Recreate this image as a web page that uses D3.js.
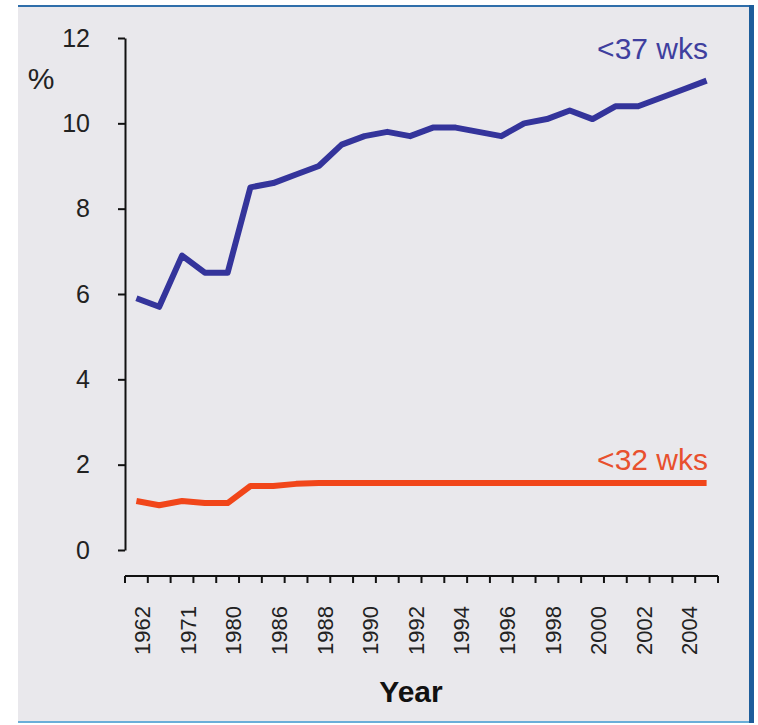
<!DOCTYPE html>
<html>
<head>
<meta charset="utf-8">
<script src="https://cdn.jsdelivr.net/npm/d3@7"></script>
<style>
  body { margin: 0; background: #fff; }
  svg { display: block; font-family: "Liberation Sans", Arial, sans-serif; }
</style>
</head>
<body>
<div id="chart"></div>
<script>
// Data
var years = ["1962", "1967", "1971", "1975", "1980", "1984", "1986", "1987", "1988", "1989",
             "1990", "1991", "1992", "1993", "1994", "1995", "1996", "1997", "1998", "1999",
             "2000", "2001", "2002", "2003", "2004", "2005"];
var under37 = [5.9, 5.7, 6.9, 6.5, 6.5, 8.5, 8.6, 8.8, 9.0, 9.5,
               9.7, 9.8, 9.7, 9.9, 9.9, 9.8, 9.7, 10.0, 10.1, 10.3,
               10.1, 10.4, 10.4, 10.6, 10.8, 11.0];
var under32 = [1.15, 1.05, 1.15, 1.1, 1.1, 1.5, 1.5, 1.55, 1.57, 1.57,
               1.57, 1.57, 1.57, 1.57, 1.57, 1.57, 1.57, 1.57, 1.57, 1.57,
               1.57, 1.57, 1.57, 1.57, 1.57, 1.57];
var yTicks = [0, 2, 4, 6, 8, 10, 12];

var W = 758, H = 725;

var svg = d3.select("#chart").append("svg")
    .attr("width", W)
    .attr("height", H);

// panel background and frame
svg.append("rect")
    .attr("x", 18).attr("y", 6)
    .attr("width", 732).attr("height", 715)
    .attr("fill", "#e9e8ec");
svg.append("line")
    .attr("x1", 18).attr("x2", 752).attr("y1", 6).attr("y2", 6)
    .attr("stroke", "#2f6eaa").attr("stroke-width", 2);
svg.append("line")
    .attr("x1", 18).attr("x2", 752).attr("y1", 722).attr("y2", 722)
    .attr("stroke", "#6aaed8").attr("stroke-width", 2);
svg.append("line")
    .attr("x1", 751.5).attr("x2", 751.5).attr("y1", 5).attr("y2", 723)
    .attr("stroke", "#1d5d9b").attr("stroke-width", 5);

// scales
var x = d3.scaleBand()
    .domain(years)
    .range([125, 718])
    .padding(0);

var y = d3.scaleLinear()
    .domain([0, 12])
    .range([550, 38]);

// y axis
var yAxis = svg.append("g")
    .attr("transform", "translate(125,0)")
    .call(d3.axisLeft(y).tickValues(yTicks).tickSize(7).tickSizeOuter(0).tickPadding(28));
yAxis.select(".domain").attr("stroke", "#111").attr("stroke-width", 2);
yAxis.selectAll(".tick line").attr("stroke", "#111").attr("stroke-width", 2);
yAxis.selectAll(".tick text")
    .attr("font-size", 25)
    .attr("font-family", "Liberation Sans, Arial, sans-serif")
    .attr("fill", "#222");

// x axis: ticks between categories, labels every other category
var xg = svg.append("g").attr("transform", "translate(0,576)");
xg.append("line")
    .attr("x1", x.range()[0]).attr("x2", x.range()[1])
    .attr("stroke", "#111").attr("stroke-width", 2);
var edges = years.map(function(d) { return x(d); }).concat([x(years[years.length - 1]) + x.bandwidth()]);
xg.selectAll("line.tk")
    .data(edges)
    .enter().append("line")
      .attr("class", "tk")
      .attr("x1", function(d) { return d; })
      .attr("x2", function(d) { return d; })
      .attr("y1", 0).attr("y2", 7)
      .attr("stroke", "#111").attr("stroke-width", 2);
xg.selectAll("text")
    .data(years.filter(function(d, i) { return i % 2 === 0; }))
    .enter().append("text")
      .attr("transform", function(d) {
        return "translate(" + (x(d) + x.bandwidth() / 2 + 6) + ",30) rotate(-90)";
      })
      .attr("dy", "0.35em")
      .attr("text-anchor", "end")
      .attr("font-size", 22)
      .attr("fill", "#222")
      .text(function(d) { return d; });

// lines
var line = d3.line()
    .x(function(d, i) { return x(years[i]) + x.bandwidth() / 2; })
    .y(function(d) { return y(d); });

svg.append("path")
    .datum(under37)
    .attr("fill", "none")
    .attr("stroke", "#34349b")
    .attr("stroke-width", 6)
    .attr("stroke-linejoin", "round")
    .attr("d", line);

svg.append("path")
    .datum(under32)
    .attr("fill", "none")
    .attr("stroke", "#f1461a")
    .attr("stroke-width", 6)
    .attr("stroke-linejoin", "round")
    .attr("d", line);

// series labels
svg.append("text")
    .attr("x", 708).attr("y", 59)
    .attr("text-anchor", "end")
    .attr("font-size", 30)
    .attr("fill", "#3f3f9e")
    .text("<37 wks");

svg.append("text")
    .attr("x", 708).attr("y", 470)
    .attr("text-anchor", "end")
    .attr("font-size", 30)
    .attr("fill", "#e8502e")
    .text("<32 wks");

// axis titles
svg.append("text")
    .attr("x", 41).attr("y", 89)
    .attr("text-anchor", "middle")
    .attr("font-size", 30)
    .attr("fill", "#222")
    .text("%");

svg.append("text")
    .attr("x", 411).attr("y", 702)
    .attr("text-anchor", "middle")
    .attr("font-size", 30)
    .attr("font-weight", "bold")
    .attr("fill", "#111")
    .text("Year");
</script>
</body>
</html>
